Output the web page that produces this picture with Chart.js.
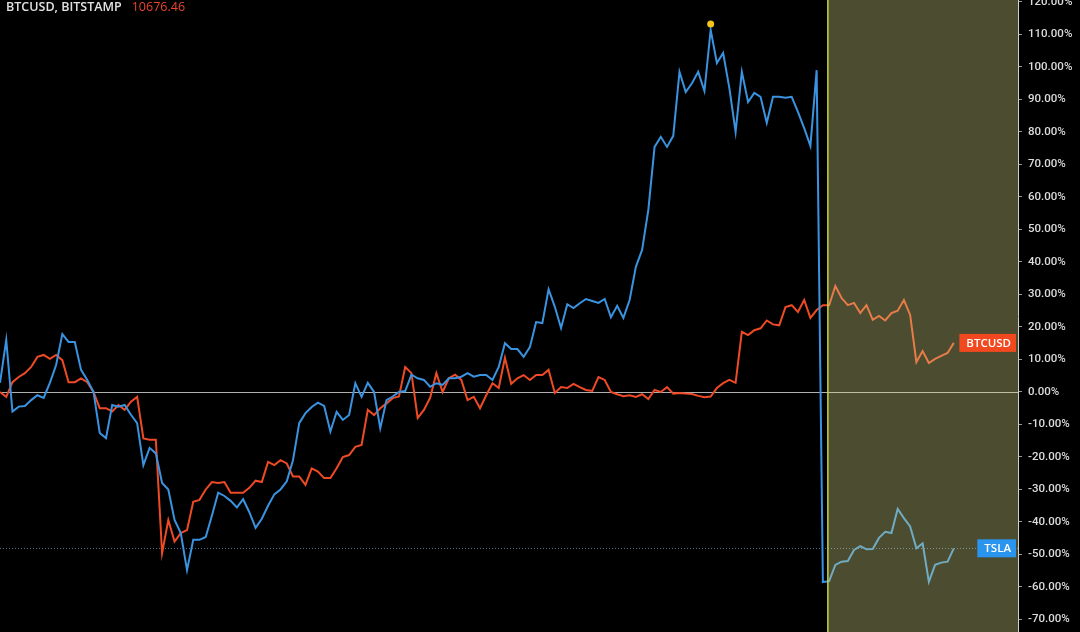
<!DOCTYPE html>
<html>
<head>
<meta charset="utf-8">
<script src="https://cdn.jsdelivr.net/npm/chart.js@4"></script>
<style>
  html, body { margin: 0; padding: 0; background: #000; }
  #wrap { position: relative; width: 1080px; height: 632px; }
  #title { position: absolute; left: 6px; top: -2px; font: 600 12.5px 'Open Sans', sans-serif; color: #e2e2e2; }
  #title span { color: #e8462c; font-weight: 400; margin-left: 10px; }
</style>
</head>
<body>
<div id="wrap">
  <canvas id="chart"></canvas>
  <div id="title">BTCUSD, BITSTAMP<span>10676.46</span></div>
</div>
<script>
// % change, one value per session
const btcusd = [0,-1.5,3,4.6,5.8,7.7,10.8,11.4,10.2,11.4,
  9.8,3,3,4.2,3,0,-5,-5,-6,-4,
  -5.5,-3,-1.5,-14.3,-14.7,-14.7,-49.6,-39.4,-46,-43.4,
  -42.5,-33.8,-33.2,-30,-27.7,-28,-27.7,-31,-31,-31,
  -29.5,-27.3,-27.7,-21.5,-22.5,-21,-22,-26,-26,-28.6,
  -23.5,-24.5,-26.5,-26.5,-23.5,-20,-19.4,-16.9,-16.3,-5.5,
  -7.1,-5,-3.5,-1.9,-1.4,7.7,5.8,-8,-5.5,-1.8,
  5.8,0,4.2,5.3,3.7,-2.5,-1.5,-5,-1,2.7,
  1.2,10.5,2.5,4.2,5.2,3.7,5.2,5.2,6.8,-0.3,
  1.5,1.2,2.5,1.5,0.6,0.3,4.6,3.7,0,-0.7,
  -1.3,-1,-1.5,-0.7,-2.2,0.6,0,1.5,-0.5,-0.3,
  -0.5,-0.6,-1.2,-1.6,-1.4,1.2,2.7,3.7,2.8,18.5,
  17.5,19,19.6,22,20.8,20.5,26.1,26.7,24.6,28.3,
  22.8,25.2,26.7,26.7,32.6,28.9,26.7,27.4,24.3,26.7,
  22.2,23.4,22,24.3,25,28.3,23.7,9.2,12.6,8.9,
  10.2,11.1,12,15.1];

const tsla = [2.8,16,-6,-4.5,-4.3,-2.5,-1,-1.8,2.8,8.3,
  17.8,15.4,15.4,6.8,3.7,0,-12.6,-14.2,-4,-4.5,
  -4,-7,-9.6,-22.5,-17.2,-18.9,-28,-30,-39.4,-43.4,
  -54.8,-45.5,-45.5,-44.6,-38,-31,-32,-33.5,-35.5,-33,
  -37,-41.8,-39,-35,-31.5,-30,-27.5,-21,-9.6,-6.5,
  -4.6,-3.3,-4.3,-12.2,-6.1,-8.6,-7.1,2.7,-1.5,2.8,
  0,-11.2,-2.5,-1.4,0,0.3,5.3,4.2,3.7,1.6,
  2.7,2.2,4.2,4.2,4.7,5.8,4.7,5.2,5.2,3.7,
  7.7,15,13.2,13.2,10.8,13.8,21.5,21.2,31.6,26.2,
  19.7,27,25.8,27.3,28.6,28,27.4,28.6,23,26.5,
  22.8,28.3,38.5,43.7,56,75.4,78.5,75.4,78.8,98.5,
  92.3,95,98.5,92.6,111.4,101.2,104.3,93.5,80,98.5,
  89.2,92,90.8,82.8,90.8,90.8,90.5,90.8,86.2,81.2,
  75.7,99,-58.5,-58.2,-53.2,-52.2,-52,-48.6,-47.4,-48.4,
  -48.3,-44.9,-43,-43.4,-36,-38.8,-41.4,-48.1,-46.6,-58.4,
  -53.2,-52.5,-52.2,-48.1];

// yellow high marker on tsla
const peakIndex = 114;
const peakValue = 113.2;

// start of the highlighted range (in sessions)
const shadeFrom = 132.8;

// axis range
const yMin = -73.85;
const yMax = 120.6;
const yStep = 10;
const xMax = 163.3;

const seriesNames = ['BTCUSD', 'TSLA'];
const redColor = '#ee4a26';
const blueColor = '#3a93e0';

function toPoints(arr) {
  return arr.map((v, i) => ({ x: i, y: v }));
}

const decorations = {
  id: 'decorations',
  beforeDatasetsDraw(chart) {
    const { ctx, chartArea: a, scales: { y } } = chart;
    ctx.save();
    // zero line
    const y0 = Math.round(y.getPixelForValue(0)) + 0.5;
    ctx.strokeStyle = '#b0b0b0';
    ctx.lineWidth = 1;
    ctx.beginPath();
    ctx.moveTo(a.left, y0);
    ctx.lineTo(a.right, y0);
    ctx.stroke();
    // last value line for tsla
    const yt = Math.round(y.getPixelForValue(tsla[tsla.length - 1])) + 0.5;
    ctx.strokeStyle = 'rgba(90,120,160,0.9)';
    ctx.setLineDash([1, 2]);
    ctx.beginPath();
    ctx.moveTo(a.left, yt);
    ctx.lineTo(a.right, yt);
    ctx.stroke();
    ctx.restore();
  },
  afterDatasetsDraw(chart) {
    const { ctx, chartArea: a, scales: { x, y } } = chart;
    ctx.save();
    const xs = x.getPixelForValue(shadeFrom);
    ctx.fillStyle = 'rgba(214,217,137,0.35)';
    ctx.fillRect(xs, a.top, a.right - xs, a.bottom - a.top);
    ctx.strokeStyle = '#c8d33c';
    ctx.lineWidth = 1.5;
    ctx.beginPath();
    ctx.moveTo(xs, a.top);
    ctx.lineTo(xs, a.bottom);
    ctx.stroke();

    // last value tags
    const tags = [
      { text: seriesNames[0], value: btcusd[btcusd.length - 1], color: '#f2481f' },
      { text: seriesNames[1], value: tsla[tsla.length - 1], color: '#2a95ee' }
    ];
    ctx.font = "600 11.5px 'Open Sans', sans-serif";
    ctx.textBaseline = 'middle';
    ctx.textAlign = 'right';
    tags.forEach(t => {
      const cy = y.getPixelForValue(t.value);
      const w = ctx.measureText(t.text).width + 12;
      ctx.fillStyle = t.color;
      ctx.fillRect(a.right - 2 - w, cy - 9, w, 18);
      ctx.fillStyle = '#ffffff';
      ctx.fillText(t.text, a.right - 7, cy + 0.5);
    });
    ctx.restore();
  }
};

new Chart(document.getElementById('chart'), {
  type: 'line',
  data: {
    datasets: [
      {
        label: 'peak',
        data: [{ x: peakIndex, y: peakValue }],
        showLine: false,
        pointRadius: 3.5,
        pointBackgroundColor: '#f5c31c',
        pointBorderWidth: 0
      },
      {
        label: seriesNames[1],
        data: toPoints(tsla),
        borderColor: blueColor,
        borderWidth: 2,
        pointRadius: 0,
        tension: 0
      },
      {
        label: seriesNames[0],
        data: toPoints(btcusd),
        borderColor: redColor,
        borderWidth: 2,
        pointRadius: 0,
        tension: 0
      }
    ]
  },
  options: {
    responsive: true,
    maintainAspectRatio: false,
    animation: false,
    layout: { padding: 0, autoPadding: false },
    plugins: {
      legend: { display: false },
      tooltip: { enabled: false }
    },
    scales: {
      x: {
        type: 'linear',
        min: 0,
        max: xMax,
        display: false
      },
      y: {
        position: 'right',
        min: yMin,
        max: yMax,
        ticks: {
          stepSize: yStep,
          includeBounds: false,
          color: '#dcdcdc',
          padding: 6,
          font: { family: 'Roboto', size: 11.5, weight: '500' },
          callback: v => v.toFixed(2) + '%'
        },
        grid: {
          drawOnChartArea: false,
          drawTicks: true,
          tickLength: 4,
          color: '#9c9c9c'
        },
        border: { display: true, color: '#cfcfcf', width: 1 },
        afterFit(scale) {
          scale.width = 62;
          scale.paddingTop = 0;
          scale.paddingBottom = 0;
        }
      }
    }
  },
  plugins: [decorations]
});
</script>
</body>
</html>
